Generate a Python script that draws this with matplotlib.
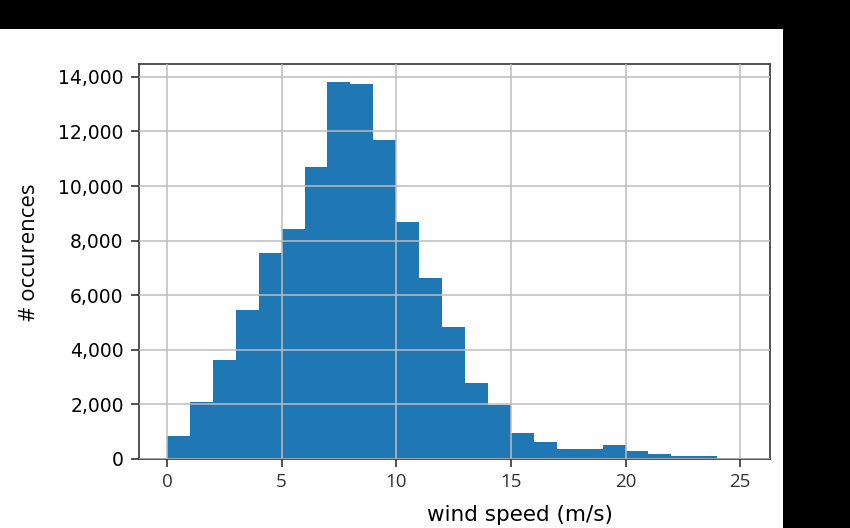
import matplotlib
matplotlib.use("Agg")
import matplotlib.pyplot as plt
from matplotlib.patches import Rectangle
from matplotlib.ticker import FuncFormatter
import numpy as np

# bin edges (m/s) and counts per bin
bin_edges = list(range(0, 26))
counts = [844, 2077, 3633, 5442, 7560, 8426, 10690, 13820, 13747, 11681,
          8690, 6628, 4829, 2774, 1982, 962, 635, 378, 378, 514,
          305, 169, 110, 95, 8]
x_ticks = [0, 5, 10, 15, 20, 25]
y_ticks = [0, 2000, 4000, 6000, 8000, 10000, 12000, 14000]

fig = plt.figure(figsize=(8.5, 5.28), dpi=100, facecolor="black")
fig.patches.append(Rectangle((0, 0), 783.3 / 850, (528 - 29) / 528,
                             transform=fig.transFigure, facecolor="white",
                             edgecolor="none", zorder=-10))

ax = fig.add_axes([139 / 850, 1 - 459 / 528, (770 - 139) / 850, (459 - 64) / 528])
ax.set_facecolor("white")

centers = [(bin_edges[i] + bin_edges[i + 1]) / 2 for i in range(len(counts))]
ax.hist(centers, bins=bin_edges, weights=counts, color="#1f77b4", zorder=1)

ax.set_axisbelow(False)
ax.grid(True, color="#bdbdbd", linewidth=1.1, zorder=2)

ax.set_xlim(-1.22, 26.3)
ax.set_ylim(0, 14470)
ax.set_xticks(x_ticks)
ax.set_yticks(y_ticks)
ax.yaxis.set_major_formatter(FuncFormatter(lambda v, p: f"{int(v):,}"))

for s in ax.spines.values():
    s.set_color("#444444")
    s.set_linewidth(1.3)

ax.tick_params(axis="y", labelsize=13.5, length=6, width=1.2, color="#333333",
               pad=5, labelcolor="black")
ax.tick_params(axis="x", labelsize=13.5, length=6, width=1.2, color="#333333",
               pad=4, labelcolor="#333333")
for lab in ax.get_xticklabels():
    lab.set_fontfamily("Open Sans")

ax.set_xlabel("wind speed (m/s)", fontsize=15.5, family="DejaVu Sans")
ax.xaxis.set_label_coords(0.604, -0.142)
ax.xaxis.label.set_va("center")
ax.set_ylabel("# occurences", fontsize=16, family="Open Sans")
ax.yaxis.set_label_coords(-0.173, 0.523)
ax.yaxis.label.set_va("center")

fig.savefig("out.png", dpi=100, facecolor=fig.get_facecolor())
